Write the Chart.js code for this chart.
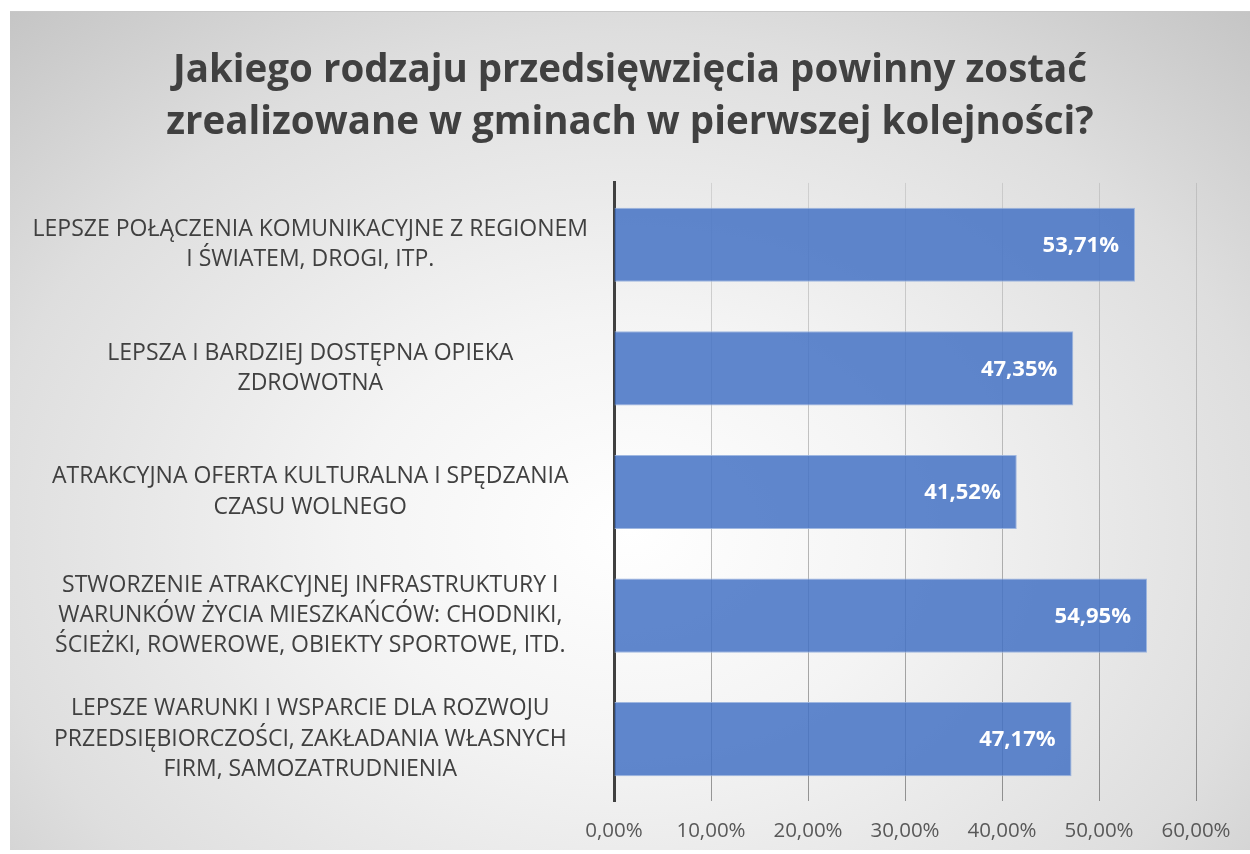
<!DOCTYPE html>
<html>
<head>
<meta charset="utf-8">
<script src="https://cdn.jsdelivr.net/npm/chart.js@4"></script>
<style>
  html, body { margin: 0; padding: 0; background: #ffffff; }
  #ramka {
    position: absolute; left: 10px; top: 11px; width: 1240px; height: 839px;
    border-top: 1px solid #c8c8c8;
    box-sizing: border-box;
    background: radial-gradient(ellipse 75% 85% at 50% 62%, #ffffff 0%, #f4f4f4 30%, #dedede 70%, #c4c4c4 100%);
  }
  canvas { display: block; }
</style>
</head>
<body>
<div id="ramka"><canvas id="wykres" width="1240" height="838"></canvas></div>
<script>
  // dane z wykresu
  let kategorie = [
    ["LEPSZE POŁĄCZENIA KOMUNIKACYJNE Z REGIONEM", "I ŚWIATEM, DROGI, ITP."],
    ["LEPSZA I BARDZIEJ DOSTĘPNA OPIEKA", "ZDROWOTNA"],
    ["ATRAKCYJNA OFERTA KULTURALNA I SPĘDZANIA", "CZASU WOLNEGO"],
    ["STWORZENIE ATRAKCYJNEJ INFRASTRUKTURY I", "WARUNKÓW ŻYCIA MIESZKAŃCÓW: CHODNIKI,", "ŚCIEŻKI, ROWEROWE, OBIEKTY SPORTOWE, ITD."],
    ["LEPSZE WARUNKI I WSPARCIE DLA ROZWOJU", "PRZEDSIĘBIORCZOŚCI, ZAKŁADANIA WŁASNYCH", "FIRM, SAMOZATRUDNIENIA"]
  ];
  let wartosci = [53.71, 47.35, 41.52, 54.95, 47.17];
  let osX = [0, 10, 20, 30, 40, 50, 60];

  let tytul = ["Jakiego rodzaju przedsięwzięcia powinny zostać", "zrealizowane w gminach w pierwszej kolejności?"];

  function procent(v) {
    return v.toFixed(2).replace(".", ",") + "%";
  }

  // etykiety wartosci wewnatrz slupkow
  let etykietyPlugin = {
    id: "etykiety",
    afterLayout(chart) {
      // tytul wysrodkowany na calej szerokosci
      if (chart.titleBlock) {
        chart.titleBlock.left = 0;
        chart.titleBlock.right = chart.width;
        chart.titleBlock.width = chart.width;
      }
    },
    afterDatasetsDraw(chart) {
      let ctx = chart.ctx;
      let meta = chart.getDatasetMeta(0);
      ctx.save();
      ctx.fillStyle = "#ffffff";
      ctx.font = "bold 22px 'Open Sans'";
      ctx.textAlign = "right";
      ctx.textBaseline = "middle";
      meta.data.forEach(function (bar, i) {
        ctx.fillText(procent(wartosci[i]), bar.x - 16, bar.y + 1);
      });
      ctx.restore();
    }
  };

  function kolorSiatki(context) {
    let area = context.chart.chartArea;
    if (!area) return "rgba(0,0,0,0.2)";
    let g = context.chart.ctx.createLinearGradient(0, area.top, 0, area.bottom);
    g.addColorStop(0, "rgba(0,0,0,0.10)");
    g.addColorStop(1, "rgba(0,0,0,0.38)");
    return g;
  }

  let wykres = new Chart(document.getElementById("wykres"), {
    type: "bar",
    data: {
      labels: kategorie,
      datasets: [{
        data: wartosci,
        backgroundColor: "rgba(68,114,196,0.85)",
        borderColor: "rgba(150,176,222,0.9)",
        borderWidth: 1,
        barPercentage: 0.6,
        categoryPercentage: 1
      }]
    },
    options: {
      indexAxis: "y",
      responsive: false,
      animation: false,
      layout: { padding: { left: 0, right: 54, top: 0, bottom: 8 } },
      plugins: {
        legend: { display: false },
        tooltip: { enabled: false },
        title: {
          display: true,
          text: tytul,
          color: "#404040",
          font: { family: "'Open Sans'", size: 38.5, weight: "bold", lineHeight: 1.35 },
          padding: { top: 33, bottom: 34 }
        }
      },
      scales: {
        x: {
          min: 0,
          max: 60,
          afterBuildTicks(scale) {
            scale.ticks = osX.map(function (v) { return { value: v }; });
          },
          afterFit(scale) { scale.height = 41; },
          ticks: {
            color: "#595959",
            font: { family: "'Open Sans'", size: 20.5 },
            padding: 18,
            maxRotation: 0,
            callback: function (v) { return procent(v); }
          },
          grid: {
            color: kolorSiatki,
            lineWidth: 1,
            drawTicks: false
          },
          border: { display: false }
        },
        y: {
          afterFit(scale) {
            scale.width = 604;
            scale.paddingTop = 0;
            scale.paddingBottom = 0;
          },
          ticks: {
            color: "#404040",
            font: { family: "'Open Sans'", size: 23, lineHeight: 1.32 },
            crossAlign: "center",
            padding: 18
          },
          grid: { display: false },
          border: { display: true, color: "#404040", width: 3 }
        }
      }
    },
    plugins: [etykietyPlugin]
  });
</script>
</body>
</html>
